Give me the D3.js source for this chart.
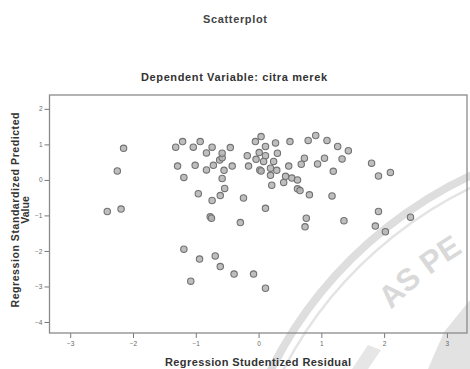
<!DOCTYPE html>
<html>
<head>
<meta charset="utf-8">
<script src="https://cdn.jsdelivr.net/npm/d3@7"></script>
<style>
  body { margin: 0; background: #fff; }
  text { font-family: "Liberation Sans", Arial, sans-serif; }
</style>
</head>
<body>
<script>
// values
const residual = [
  -2.41, -2.25, -2.15, -2.19,
  -1.32, -1.21, -1.04, -0.93, -0.83, -0.74, -1.29, -1.01, -0.83, -0.72,
  -1.19, -0.96, -0.74, -0.61, -0.54, -0.58, -0.55, -0.62, -0.58, -0.58,
  -0.45, -0.42, -0.77, -0.75, -0.29, -1.19, -0.94, -0.69, -0.61, -0.39, -1.08,
  -0.05, 0.04, 0.11, 0.27, 0.50, -0.18, 0.01, 0.11, -0.04, 0.30, 0.24, 0.08,
  -0.16, 0.02, 0.04, 0.19, 0.29, 0.48, 0.19, 0.43, 0.53, 0.62, 0.21, 0.40,
  0.62, 0.66, 0.81, -0.24, 0.11, -0.08, 0.11,
  0.79, 0.91, 1.09, 1.26, 1.43, 0.73, 1.05, 1.33, 0.68, 0.94, 1.19, 1.17,
  0.76, 0.74, 1.36,
  1.80, 1.91, 2.10, 1.91, 1.86, 2.02, 2.42
];
const predicted = [
  -0.89, 0.25, 0.89, -0.82,
  0.92, 1.08, 0.92, 1.08, 0.76, 0.92, 0.39, 0.41, 0.28, 0.41,
  0.07, -0.39, -0.58, -0.44, -0.24, 0.04, 0.27, 0.56, 0.62, 0.75,
  0.91, 0.39, -1.04, -1.08, -1.20, -1.95, -2.23, -2.14, -2.44, -2.65, -2.85,
  1.08, 1.22, 0.94, 1.04, 1.08, 0.68, 0.77, 0.68, 0.58, 0.75, 0.52, 0.52,
  0.39, 0.28, 0.25, 0.33, 0.27, 0.39, 0.13, 0.10, 0.05, 0.00, -0.15, -0.07,
  -0.25, -0.30, -0.42, -0.51, -0.80, -2.65, -3.05,
  1.11, 1.25, 1.11, 0.94, 0.82, 0.61, 0.61, 0.59, 0.44, 0.45, 0.24, -0.45,
  -1.08, -1.32, -1.15,
  0.47, 0.11, 0.21, -0.89, -1.30, -1.46, -1.05
];
const xTicks = [-3, -2, -1, 0, 1, 2, 3];
const yTicks = [2, 1, 0, -1, -2, -3, -4];

const width = 470, height = 369;
const margin = { top: 95, bottom: 36, left: 49.5, right: 3 };

const svg = d3.select("body").append("svg")
  .attr("width", width)
  .attr("height", height);

// faint seal watermark from the scan
const wm = svg.append("g").attr("fill", "none");
const cx = 650, cy = 560;
const arcPath = (r, a0, a1) => {
  const p = d3.path();
  p.arc(cx, cy, r, a0 * Math.PI / 180, a1 * Math.PI / 180, false);
  return p.toString();
};
wm.append("path").attr("d", arcPath(424, 205, 258))
  .attr("stroke", "#dedede").attr("stroke-width", 8);
wm.append("path").attr("d", arcPath(413, 205, 258))
  .attr("stroke", "#e4e4e4").attr("stroke-width", 2.5);
wm.append("path")
  .attr("d", "M428,369 L444,332 L470,300 L470,369 Z")
  .attr("fill", "#e2e2e2");
wm.append("path")
  .attr("d", "M352,369 L368,345 L381,350 L368,369 Z")
  .attr("fill", "#e6e6e6");
svg.append("defs").append("path").attr("id", "sealText")
  .attr("d", arcPath(360, 224, 262));
svg.append("text")
  .style("font-size", "31px").style("font-weight", "bold")
  .attr("fill", "#d9d9d9")
  .append("textPath").attr("href", "#sealText")
  .text("AS PE");

// titles
svg.append("text")
  .attr("x", 235).attr("y", 23)
  .attr("text-anchor", "middle")
  .attr("textLength", 64)
  .style("font-size", "11px").style("font-weight", "bold")
  .attr("fill", "#444")
  .text("Scatterplot");

svg.append("text")
  .attr("x", 234).attr("y", 81)
  .attr("text-anchor", "middle")
  .attr("textLength", 186)
  .style("font-size", "11px").style("font-weight", "bold")
  .attr("fill", "#333")
  .text("Dependent Variable: citra merek");

// scales
const x = d3.scaleLinear()
  .domain([-3.33, 3.32])
  .range([margin.left, width - margin.right]);
const y = d3.scaleLinear()
  .domain([-4.31, 2.39])
  .range([height - margin.bottom, margin.top]);

// axes
const xAxis = svg.append("g")
  .attr("transform", `translate(0,${height - margin.bottom})`)
  .call(d3.axisBottom(x).tickValues(xTicks).tickSize(5).tickPadding(3).tickFormat(d3.format("d")));
const yAxis = svg.append("g")
  .attr("transform", `translate(${margin.left},0)`)
  .call(d3.axisLeft(y).tickValues(yTicks).tickSize(5).tickPadding(2).tickFormat(d3.format("d")));
[xAxis, yAxis].forEach(g => {
  g.select(".domain").remove();
  g.selectAll(".tick line").attr("stroke", "#777");
  g.selectAll(".tick text")
    .attr("fill", "#666")
    .style("font-size", "6.5px")
    .style("font-family", "'Liberation Sans', Arial, sans-serif");
});

// plot frame
svg.append("rect")
  .attr("x", x.range()[0]).attr("y", y.range()[1])
  .attr("width", x.range()[1] - x.range()[0])
  .attr("height", y.range()[0] - y.range()[1])
  .attr("fill", "none")
  .attr("stroke", "#8a8a8a")
  .attr("stroke-width", 1.3);

// axis titles
svg.append("text")
  .attr("x", 258).attr("y", 366)
  .attr("text-anchor", "middle")
  .attr("textLength", 186)
  .style("font-size", "11px").style("font-weight", "bold")
  .attr("fill", "#333")
  .text("Regression Studentized Residual");

const yTitle = svg.append("text")
  .attr("transform", "translate(19,210) rotate(-90)")
  .attr("text-anchor", "middle")
  .style("font-size", "10.5px").style("font-weight", "bold")
  .attr("fill", "#333");
yTitle.append("tspan").attr("x", 0).attr("y", 0)
  .attr("textLength", 195)
  .text("Regression Standardized Predicted");
yTitle.append("tspan").attr("x", 0).attr("y", 10)
  .text("Value");

// points
const pts = residual.map((r, i) => ({ r: r, p: predicted[i] }));
svg.append("g").selectAll("circle")
  .data(pts)
  .enter()
  .append("circle")
  .attr("cx", d => x(d.r))
  .attr("cy", d => y(d.p))
  .attr("r", 3.2)
  .attr("fill", "#b3b3b3")
  .attr("fill-opacity", 0.85)
  .attr("stroke", "#727272")
  .attr("stroke-width", 1.1);
</script>
</body>
</html>
